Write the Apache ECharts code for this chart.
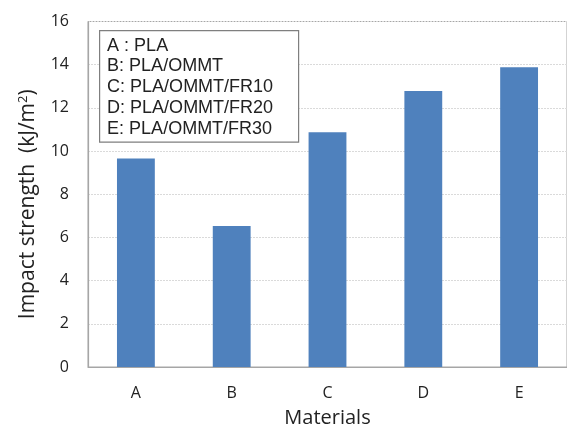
<!DOCTYPE html>
<html>
<head>
<meta charset="utf-8">
<script src="https://cdn.jsdelivr.net/npm/echarts@6/dist/echarts.min.js"></script>
<style>
  html, body { margin: 0; padding: 0; background: #ffffff; overflow: hidden; }
  #chart { width: 100vw; height: 100vh; }
</style>
</head>
<body>
<div id="chart"></div>
<script>
// Impact strength of PLA composites
const categories = ['A', 'B', 'C', 'D', 'E'];
const impactStrength = [9.65, 6.53, 10.87, 12.78, 13.88];
const legendLines = [
  'A : PLA',
  'B: PLA/OMMT',
  'C: PLA/OMMT/FR10',
  'D: PLA/OMMT/FR20',
  'E: PLA/OMMT/FR30'
];

const chart = echarts.init(document.getElementById('chart'), null, { renderer: 'canvas' });

const labelFont = '"Open Sans", "Noto Sans", sans-serif';

chart.setOption({
  animation: false,
  backgroundColor: '#ffffff',
  grid: { left: 88, top: 21.5, right: -2, bottom: 60.3, containLabel: false,
          show: true, borderColor: '#a6a6a6', borderWidth: 1, backgroundColor: 'transparent' },
  xAxis: {
    type: 'category',
    data: categories,
    name: 'Materials',
    nameLocation: 'middle',
    nameGap: 41,
    nameTextStyle: { fontFamily: labelFont, fontSize: 20, color: '#222' },
    axisLine: { lineStyle: { color: '#a6a6a6', width: 1.2 } },
    axisTick: { show: false },
    axisLabel: { margin: 18, fontFamily: labelFont, fontSize: 16, color: '#222' }
  },
  yAxis: {
    type: 'value',
    min: 0, max: 16, interval: 2,
    name: 'Impact strength  (kJ/m{sup|2})',
    nameLocation: 'middle',
    nameGap: 48,
    nameTextStyle: {
      fontFamily: labelFont, fontSize: 21, color: '#222', padding: [0, 20, 0, 0],
      rich: { sup: { fontFamily: labelFont, fontSize: 13, verticalAlign: 'top', padding: [0, 0, 10, 0], color: '#222' } }
    },
    axisLine: { show: true, lineStyle: { color: '#a6a6a6', width: 1.2 } },
    axisTick: { show: false },
    axisLabel: { margin: 19, fontFamily: labelFont, fontSize: 16, color: '#222' },
    splitLine: { lineStyle: { color: '#dadada', width: 1, type: [2, 1] } }
  },
  series: [{
    type: 'bar',
    data: impactStrength,
    barWidth: '39.5%',
    itemStyle: { color: '#4f81bd' }
  }],
  graphic: [{
    type: 'group',
    left: 99, top: 30, z: 100,
    children: [
      { type: 'rect', z: 100, shape: { x: 0, y: 0, width: 199, height: 111.5 },
        style: { fill: '#ffffff', stroke: '#7f7f7f', lineWidth: 1.2 } }
    ].concat(legendLines.map((t, i) => ({
      type: 'text', z: 101,
      x: 7.5, y: 15 + i * 20.9,
      style: { text: t, font: '18px "Liberation Sans", Arial, sans-serif', fill: '#222', textVerticalAlign: 'middle' }
    })))
  }]
});
</script>
</body>
</html>
